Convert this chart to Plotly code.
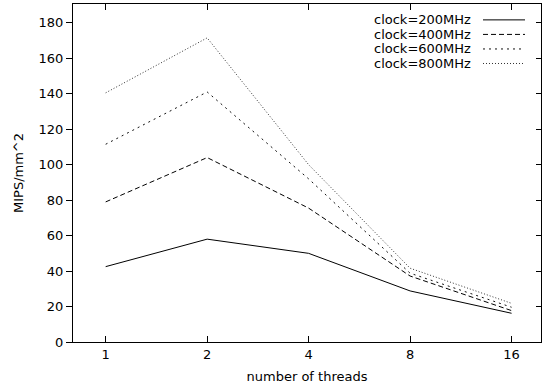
import plotly.graph_objects as go

threads = ["1", "2", "4", "8", "16"]
series_names = ["clock=200MHz", "clock=400MHz", "clock=600MHz", "clock=800MHz"]
mips_200 = [42.5, 58.0, 50.0, 28.8, 16.2]
mips_400 = [79.0, 104.0, 75.5, 37.2, 17.7]
mips_600 = [111.5, 141.0, 92.0, 38.8, 19.6]
mips_800 = [140.5, 171.5, 100.0, 41.6, 21.8]
y_ticks = [0, 20, 40, 60, 80, 100, 120, 140, 160, 180]

values = [mips_200, mips_400, mips_600, mips_800]
dashes = ["solid", "5px,3px", "2px,4px", "1px,2px"]
colors = ["#000000", "#000000", "#111111", "#333333"]

FONT = "DejaVu Sans, sans-serif"
FS = 13
xpos = list(range(len(threads)))

fig = go.Figure()
for name, vals, d, c in zip(series_names, values, dashes, colors):
    fig.add_trace(go.Scatter(x=xpos, y=vals, mode="lines", name=name,
                             line=dict(color=c, width=1, dash=d),
                             showlegend=False, hoverinfo="skip"))

# invisible trace for right-side mirrored axis
fig.add_trace(go.Scatter(x=[xpos[0]], y=[0], yaxis="y2", mode="markers",
                         marker=dict(opacity=0), showlegend=False, hoverinfo="skip"))

# custom gnuplot-style legend (text then line sample)
PLOT_W = 468.0
def px(x):
    return (x - 73) / PLOT_W

leg_y = [0.953, 0.910, 0.867, 0.824]
for name, ly, d, c in zip(series_names, leg_y, dashes, colors):
    fig.add_annotation(x=px(473), y=ly, xref="paper", yref="paper", text=name,
                       showarrow=False, xanchor="right", yanchor="middle",
                       font=dict(family=FONT, size=FS, color="#000000"))
    fig.add_shape(type="line", xref="paper", yref="paper", x0=px(483), x1=px(525),
                  y0=ly, y1=ly, line=dict(color=c, width=1, dash=d))

yrange = [0, 190.6]
fig.update_layout(
    width=542, height=392,
    margin=dict(l=73, r=1, t=4, b=50),
    paper_bgcolor="white", plot_bgcolor="white",
    font=dict(family=FONT, size=FS, color="#000000"),
    xaxis=dict(range=[-0.322, 4.29], tickvals=xpos, ticktext=threads,
               ticks="inside", ticklen=6, tickcolor="#000", showgrid=False,
               zeroline=False, showline=True, linecolor="#000", linewidth=1,
               mirror="ticks",
               title=dict(text="number of threads", font=dict(size=FS), standoff=11)),
    yaxis=dict(range=yrange, tickvals=y_ticks, ticks="outside", ticklen=6,
               tickcolor="#000", showgrid=False, zeroline=False, showline=True,
               linecolor="#000", linewidth=1, mirror=True,
               title=dict(text="MIPS/mm^2", font=dict(size=FS), standoff=12)),
    yaxis2=dict(range=yrange, tickvals=y_ticks, overlaying="y", side="right",
                ticks="inside", ticklen=5, tickcolor="#000", showticklabels=False,
                showgrid=False, zeroline=False, showline=False),
)

fig.write_html("out.html")
